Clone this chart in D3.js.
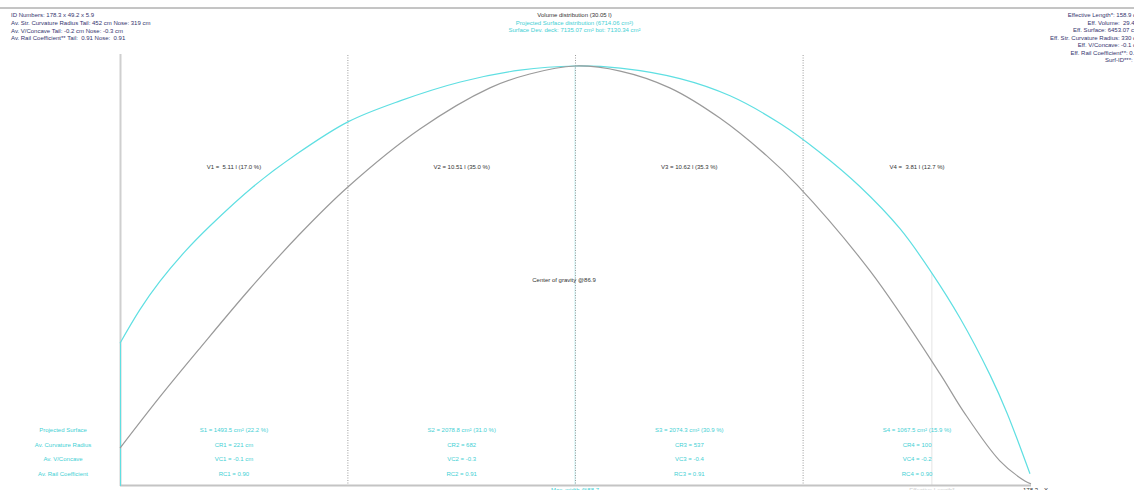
<!DOCTYPE html>
<html>
<head>
<meta charset="utf-8">
<script src="https://cdn.jsdelivr.net/npm/d3@7"></script>
<style>
  body { margin: 0; background: #fff; }
  text { font-family: "Liberation Sans", Arial, sans-serif; font-size: 6px; white-space: pre; }
</style>
</head>
<body>
<div id="chart"></div>
<script>
// dimensions
var width = 1134
var height = 490

// longueur de la planche / sections (cm)
var boardLength = 178.3
var sectionBounds = [0, 44.6, 89.15, 133.7, 178.3]
var maxWidthPos = 89.05
var cogPos = 86.9
var effLength = 158.9

// outline (largeur, % du max) - cyan
var outlineX = [0, 3.9, 7.8, 12.7, 17.6, 26.0, 34.3, 44.6, 54.8, 66.6, 78.3, 89.05, 97.9, 109.6, 119.4, 129.2, 137.0, 144.8, 152.7, 158.9, 164.4, 170.3, 173.6, 178.1]
var outlineY = [34.0, 42.0, 48.7, 55.8, 61.9, 71.2, 78.8, 86.7, 91.7, 96.2, 99.0, 100, 99.5, 97.0, 92.9, 86.3, 79.4, 71.3, 61.2, 50.7, 40.0, 26.4, 17.4, 2.9]

// distribution du volume (% du max) - gris
var volumeX = [0, 7.8, 15.7, 25.4, 35.2, 44.6, 58.7, 72.4, 80.2, 89.05, 97.9, 107.6, 117.4, 126.6, 132.5, 146.8, 160.5, 165.0, 172.2, 177.1, 178.3]
var volumeY = [9.0, 21.2, 32.9, 46.9, 60.0, 71.2, 85.0, 94.8, 98.1, 100, 98.8, 94.8, 87.6, 78.6, 71.7, 51.2, 26.7, 17.9, 6.0, 1.2, 0.5]

// textes
var infoLeft = ["ID Numbers: 178.3 x 49.2 x 5.9",
  "Av. Str. Curvature Radius Tail: 452 cm Nose: 319 cm",
  "Av. V/Concave Tail: -0.2 cm Nose: -0.3 cm",
  "Av. Rail Coefficient** Tail:  0.91 Nose:  0.91"]
var infoRight = ["Effective Length*: 158.9 cm",
  "Eff. Volume:  29.42 l",
  "Eff. Surface: 6453.07 cm²",
  "Eff. Str. Curvature Radius: 330 cm",
  "Eff. V/Concave: -0.1 cm",
  "Eff. Rail Coefficient**: 0.91",
  "Surf-ID***: 76"]
var titleLines = ["Volume distribution (30.05 l)",
  "Projected Surface distribution (6714.06 cm²)",
  "Surface Dev. deck: 7135.07 cm² bot: 7130.34 cm²"]
var volumeLabels = ["V1 =  5.11 l (17.0 %)", "V2 = 10.51 l (35.0 %)", "V3 = 10.62 l (35.3 %)", "V4 =  3.81 l (12.7 %)"]
var rowLabels = ["Projected Surface", "Av. Curvature Radius", "Av. V/Concave", "Av. Rail Coefficient"]
var surfaceLabels = ["S1 = 1493.5 cm² (22.2 %)", "S2 = 2078.8 cm² (31.0 %)", "S3 = 2074.3 cm² (30.9 %)", "S4 = 1067.5 cm² (15.9 %)"]
var radiusLabels = ["CR1 = 221 cm", "CR2 = 682", "CR3 = 537", "CR4 = 100"]
var concaveLabels = ["VC1 = -0.1 cm", "VC2 = -0.3", "VC3 = -0.4", "VC4 = -0.2"]
var railLabels = ["RC1 = 0.90", "RC2 = 0.91", "RC3 = 0.91", "RC4 = 0.90"]

var cyan = "#5fdfe2"
var cyanText = "#3fd0d4"
var grey = "#9a9a9a"

var svg = d3.select("#chart")
  .append("svg")
    .attr("width", width)
    .attr("height", height)

// échelles
var x = d3.scaleLinear().domain([0, boardLength]).range([120, 1031])
var y = d3.scaleLinear().domain([0, 100]).range([486, 66])

// ligne du haut
svg.append("line")
  .attr("x1", 0).attr("x2", width)
  .attr("y1", 8).attr("y2", 8)
  .attr("stroke", "#8a8a8a").attr("stroke-width", 1)

// repère largeur max
svg.append("line")
  .attr("x1", x(maxWidthPos)).attr("x2", x(maxWidthPos))
  .attr("y1", y(100)).attr("y2", 486)
  .attr("stroke", "#c8f2f3").attr("stroke-width", 1)

// repère longueur effective
svg.append("line")
  .attr("x1", x(effLength)).attr("x2", x(effLength))
  .attr("y1", y(outlineY[outlineX.indexOf(158.9)])).attr("y2", 486)
  .attr("stroke", "#e4e4e4").attr("stroke-width", 1)

// séparations des sections
svg.selectAll(".sep")
  .data(sectionBounds.slice(1, 4))
  .enter()
  .append("line")
    .attr("x1", function(d){ return x(d) })
    .attr("x2", function(d){ return x(d) })
    .attr("y1", 55).attr("y2", 486)
    .attr("stroke", "#9c9c9c")
    .attr("stroke-width", 1)
    .attr("stroke-dasharray", "1,1.5")

// axes
svg.append("line")
  .attr("x1", 120.5).attr("x2", 120.5)
  .attr("y1", 54).attr("y2", 486)
  .attr("stroke", "#cfcfcf").attr("stroke-width", 2)
svg.append("line")
  .attr("x1", 120).attr("x2", 1031)
  .attr("y1", 485.5).attr("y2", 485.5)
  .attr("stroke", "#c4c4c4").attr("stroke-width", 2)

var line = d3.line()
  .x(function(d){ return x(d[0]) })
  .y(function(d){ return y(d[1]) })
  .curve(d3.curveCatmullRom.alpha(0.5))

// courbe outline (cyan)
var outlineData = outlineX.map(function(d, i){ return [d, outlineY[i]] })
svg.append("line")
  .attr("x1", x(0) + 0.5).attr("x2", x(0) + 0.5)
  .attr("y1", y(0)).attr("y2", y(outlineY[0]))
  .attr("stroke", cyan).attr("stroke-width", 1)
svg.append("path")
  .datum(outlineData)
  .attr("d", line)
  .attr("fill", "none")
  .attr("stroke", cyan)
  .attr("stroke-width", 1.2)

// courbe volume (gris)
var volumeData = volumeX.map(function(d, i){ return [d, volumeY[i]] })
svg.append("path")
  .datum(volumeData)
  .attr("d", line)
  .attr("fill", "none")
  .attr("stroke", grey)
  .attr("stroke-width", 1.2)

// textes haut gauche
svg.selectAll(".infoL")
  .data(infoLeft)
  .enter()
  .append("text")
    .attr("x", 11)
    .attr("y", function(d, i){ return 15.7 + i * 7.7 })
    .attr("dominant-baseline", "middle")
    .attr("fill", "#34346e")
    .text(function(d){ return d })

// textes haut droite
svg.selectAll(".infoR")
  .data(infoRight)
  .enter()
  .append("text")
    .attr("x", 1141)
    .attr("y", function(d, i){ return 15.7 + i * 7.45 })
    .attr("text-anchor", "end")
    .attr("dominant-baseline", "middle")
    .attr("fill", "#34346e")
    .text(function(d){ return d })

// titres au centre
svg.selectAll(".title")
  .data(titleLines)
  .enter()
  .append("text")
    .attr("x", 574.5)
    .attr("y", function(d, i){ return 15.7 + i * 7.5 })
    .attr("text-anchor", "middle")
    .attr("dominant-baseline", "middle")
    .attr("fill", function(d, i){ return i == 0 ? "#333" : cyanText })
    .text(function(d){ return d })

// centres des sections
var centers = d3.range(4).map(function(i){ return x((sectionBounds[i] + sectionBounds[i + 1]) / 2) })

svg.selectAll(".vol")
  .data(volumeLabels)
  .enter()
  .append("text")
    .attr("x", function(d, i){ return centers[i] })
    .attr("y", 167.5)
    .attr("text-anchor", "middle")
    .attr("dominant-baseline", "middle")
    .attr("fill", "#333")
    .text(function(d){ return d })

svg.append("text")
  .attr("x", x(cogPos))
  .attr("y", 280)
  .attr("text-anchor", "middle")
  .attr("dominant-baseline", "middle")
  .attr("fill", "#333")
  .text("Center of gravity @" + cogPos)

// lignes du bas
var rowY = [430.7, 445.3, 459.7, 474.3]
var rows = [surfaceLabels, radiusLabels, concaveLabels, railLabels]

svg.selectAll(".rowlabel")
  .data(rowLabels)
  .enter()
  .append("text")
    .attr("x", 63)
    .attr("y", function(d, i){ return rowY[i] })
    .attr("text-anchor", "middle")
    .attr("dominant-baseline", "middle")
    .attr("fill", cyanText)
    .text(function(d){ return d })

rows.forEach(function(row, r) {
  svg.selectAll(".row" + r)
    .data(row)
    .enter()
    .append("text")
      .attr("x", function(d, i){ return centers[i] })
      .attr("y", rowY[r])
      .attr("text-anchor", "middle")
      .attr("dominant-baseline", "middle")
      .attr("fill", cyanText)
      .text(function(d){ return d })
})

// étiquettes de l'axe
svg.append("text")
  .attr("x", x(maxWidthPos))
  .attr("y", 492)
  .attr("text-anchor", "middle")
  .attr("fill", cyanText)
  .text("Max. width @88.7")
svg.append("text")
  .attr("x", x(effLength))
  .attr("y", 492)
  .attr("text-anchor", "middle")
  .attr("fill", "#cfcfcf")
  .text("Effective Length*")
svg.append("text")
  .attr("x", 1023)
  .attr("y", 492)
  .attr("fill", "#333")
  .text(boardLength)
svg.append("text")
  .attr("x", 1044)
  .attr("y", 492)
  .attr("fill", "#333")
  .text("X")
</script>
</body>
</html>
